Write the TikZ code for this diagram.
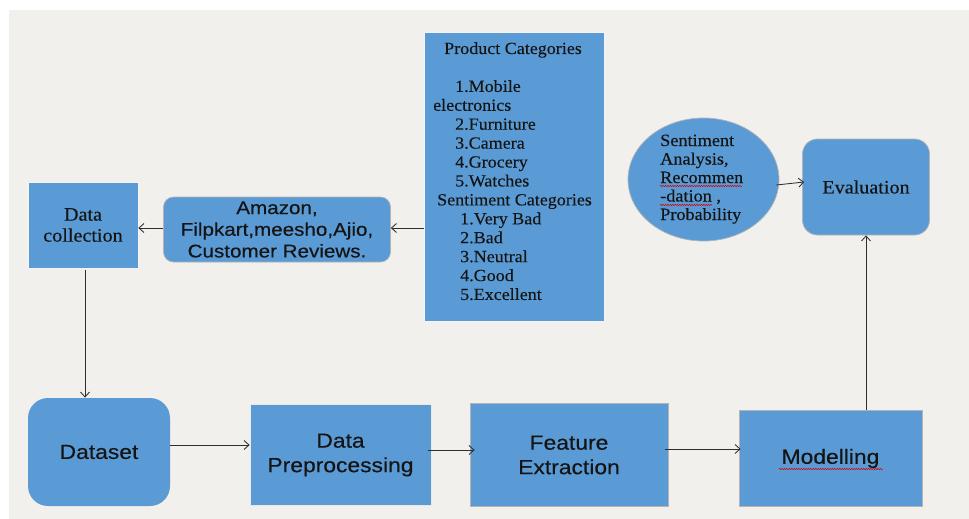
\documentclass[tikz,border=0pt]{standalone}
\usepackage{fontspec}
\usetikzlibrary{arrows.meta,shapes.geometric,decorations.pathmorphing}
\newfontfamily\serifw[FakeStretch=1.06,FakeBold=0.25]{Liberation Serif}
\newfontfamily\sansw[FakeStretch=1.12,FakeBold=0.35]{Liberation Sans}
\definecolor{bgc}{HTML}{F1F0ED}
\definecolor{boxblue}{HTML}{5B9BD5}
\definecolor{edgegray}{HTML}{B4B4B4}
\definecolor{ink}{HTML}{141414}
\definecolor{arrowgray}{HTML}{2E2E2E}
\begin{document}
\begin{tikzpicture}[x=1pt,y=-1pt,
  box/.style={fill=boxblue, draw=edgegray, line width=0.7pt, inner sep=0pt,
    text=ink, align=center},
  roundbox/.style={box, rounded corners=#1},
  serifbig/.style={font=\serifw\fontsize{19}{21}\selectfont},
  sansmid/.style={font=\sansw\fontsize{18.4}{21.7}\selectfont},
  sansbig/.style={font=\sansw\fontsize{20.4}{24.5}\selectfont},
  listline/.style={anchor=base west, inner sep=0pt, text=ink,
    font=\serifw\fontsize{17}{18.9}\selectfont},
  conn/.style={draw=arrowgray, line width=0.85pt,
    -{Straight Barb[length=5pt,width=9pt]}},
  spell/.style={draw=red!85!black, line width=0.5pt, decorate,
    decoration={snake, amplitude=0.7pt, segment length=2.4pt}}
]
% canvas and backdrop
\useasboundingbox (0,0) rectangle (969,519);
\fill[white] (0,0) rectangle (969,519);
\fill[bgc] (9,10) rectangle (969,519);

% category list box
\node[box, draw=white!85!edgegray, minimum width=180, minimum height=289] (cats) at (514,177) {};
\node[listline] (pc0) at (444,54) {Product Categories};
\foreach \tx/\tt [count=\i] in {
    455/1.Mobile, 433/electronics, 455/2.Furniture, 455/3.Camera,
    455/4.Grocery, 455/5.Watches, 437/Sentiment Categories,
    460/1.Very Bad, 460/2.Bad, 460/3.Neutral, 460/4.Good, 460/5.Excellent}
  \node[listline] (pc\i) at (\tx, {54+(\i+1)*18.92}) {\tt};

% sources
\node[roundbox=10, sansmid, minimum width=227, minimum height=65] (src) at (277,229.5)
  {Amazon,\\Filpkart,meesho,Ajio,\\Customer Reviews.};
\node[box, serifbig, draw=white!85!edgegray, minimum width=110, minimum height=86] (collect) at (83,225)
  {Data\\collection};

% pipeline row
\node[roundbox=20, sansbig, draw=none, minimum width=142, minimum height=108] (dataset) at (99,452) {Dataset};
\node[box, sansbig, draw=white!70!edgegray, minimum width=181, minimum height=101] (prep) at (340.5,455) {Data\\Preprocessing};
\node[box, sansbig, minimum width=198, minimum height=103] (feat) at (569,455) {Feature\\Extraction};
\node[box, sansbig, minimum width=183, minimum height=96] (model) at (830.5,458.5) {Modelling};

% outcome
\node[box, ellipse, minimum width=151, minimum height=123] (sa) at (703.5,179.5) {};
\foreach \tt [count=\i] in {Sentiment, {Analysis,}, Recommen, {-dation ,}, Probability}
  \node[listline, font=\serifw\fontsize{17.2}{18.5}\selectfont] (sa\i) at (660, {127.5+\i*18.5}) {\tt};
\node[roundbox=15, serifbig, minimum width=127, minimum height=96] (eval) at (866,187) {Evaluation};

% spell-check marks
\draw[spell] (sa3.base west) ++(0,3) -- ++(82,0);
\draw[spell] (sa4.base west) ++(0,3.5) -- ++(52,0);
\draw[spell] (779,469) -- (883,469);

% connectors
\draw[conn] (cats.west |- 0,228) -- (src.east |- 0,228);
\draw[conn] (src.west |- 0,228) -- (collect.east |- 0,228);
\draw[conn, shorten <=2pt] (collect.south -| 85,0) -- (dataset.north -| 85,0);
\draw[conn] ([yshift=7pt]dataset.east) -- ([yshift=7pt]dataset.east -| prep.west);
\draw[conn] ([yshift=5pt,xshift=-3pt]prep.east) -- ([yshift=5pt,xshift=5pt]prep.east -| feat.west);
\draw[conn] ([yshift=6pt,xshift=-3pt]feat.east) -- ([yshift=6pt,xshift=2pt]feat.east -| model.west);
\draw[conn] (model.north -| eval.south) -- (eval.south);
\draw[conn] ([yshift=-5.5pt,xshift=-3pt]sa.east) -- ([yshift=5pt,xshift=2pt]eval.west);
\end{tikzpicture}
\end{document}
